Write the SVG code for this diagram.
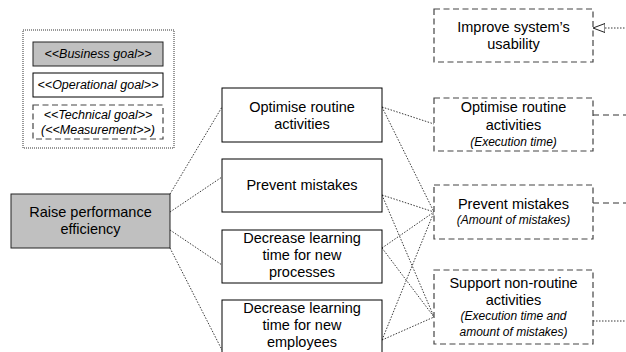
<svg xmlns="http://www.w3.org/2000/svg" width="626" height="352" viewBox="0 0 626 352">
<defs>
<style>
text{font-family:"Liberation Sans",Arial,sans-serif;fill:#000;text-anchor:middle}
.m{font-size:14.5px}
.s{font-size:12px;font-style:italic}
.lg{font-size:12.5px;font-style:italic}
.biz{fill:#c0c0c0;stroke:#222;stroke-width:1}
.op{fill:#fff;stroke:#000;stroke-width:1}
.tech{fill:#fff;stroke:#444;stroke-width:1.2;stroke-dasharray:6,3.5}
.frame{fill:#fff;stroke:#333;stroke-width:1;stroke-dasharray:1,1}
.c{fill:none;stroke:#222;stroke-width:0.9;stroke-dasharray:1.5,1.5}
.d{fill:none;stroke:#333;stroke-width:1.2;stroke-dasharray:6,4}
</style>
<marker id="tri" viewBox="0 0 12 10" refX="0" refY="5" markerWidth="12" markerHeight="10" markerUnits="userSpaceOnUse" orient="auto">
<path d="M0,5 L12,0.5 L12,9.5 Z" fill="#fff" stroke="#222" stroke-width="1"/>
</marker>
</defs>
<rect width="626" height="352" fill="#fff"/>

<g id="legend">
<rect class="frame" x="23" y="30" width="151" height="118"/>
<rect class="biz" x="33" y="42" width="130" height="24"/>
<text class="lg" x="98" y="58">&lt;&lt;Business goal&gt;&gt;</text>
<rect class="op" x="33" y="73" width="130" height="24"/>
<text class="lg" x="98" y="89">&lt;&lt;Operational goal&gt;&gt;</text>
<rect class="tech" x="33" y="105" width="130" height="34"/>
<text class="lg" x="98" y="119">&lt;&lt;Technical goal&gt;&gt;</text>
<text class="lg" x="98" y="134">(&lt;&lt;Measurement&gt;&gt;)</text>
</g>

<g id="connectors">
<path class="c" d="M170,194 L222,107"/>
<path class="c" d="M170,212 L222,177"/>
<path class="c" d="M170,230 L222,265"/>
<path class="c" d="M170,248 L222,350"/>
<path class="c" d="M382,107 L434,124"/>
<path class="c" d="M382,107 L434,212"/>
<path class="c" d="M382,195 L434,212"/>
<path class="c" d="M382,195 L434,317"/>
<path class="c" d="M382,248 L434,212"/>
<path class="c" d="M382,248 L434,317"/>
<path class="c" d="M382,340 L434,212"/>
<path class="c" d="M382,340 L434,317"/>
<path class="c" d="M605,28 L626,28" stroke-dasharray="2,1"/>
<path fill="none" stroke="#222" stroke-width="0.9" d="M593,28 L605,28" marker-start="url(#tri)" stroke-opacity="0"/>
<path class="d" d="M593,115 L626,115"/>
<path class="d" d="M593,203 L626,203"/>
<path class="c" d="M593,321 L626,321" stroke-dasharray="1,1"/>
</g>

<g id="raise">
<rect class="biz" x="11" y="194" width="159" height="54"/>
<text class="m" x="90.5" y="217">Raise performance</text>
<text class="m" x="90.5" y="234">efficiency</text>
</g>

<g id="op-optimise">
<rect class="op" x="222" y="88" width="160" height="54"/>
<text class="m" x="302" y="112">Optimise routine</text>
<text class="m" x="302" y="129">activities</text>
</g>
<g id="op-prevent">
<rect class="op" x="222" y="159" width="160" height="53"/>
<text class="m" x="302" y="190">Prevent mistakes</text>
</g>
<g id="op-processes">
<rect class="op" x="222" y="230" width="160" height="53"/>
<text class="m" x="302" y="243">Decrease learning</text>
<text class="m" x="302" y="260">time for new</text>
<text class="m" x="302" y="277">processes</text>
</g>
<g id="op-employees">
<rect class="op" x="222" y="300" width="160" height="60"/>
<text class="m" x="302" y="313">Decrease learning</text>
<text class="m" x="302" y="330">time for new</text>
<text class="m" x="302" y="347">employees</text>
</g>

<g id="t-usability">
<rect class="tech" x="434" y="9" width="159" height="53"/>
<text class="m" x="513.5" y="32">Improve system’s</text>
<text class="m" x="513.5" y="49">usability</text>
</g>
<g id="t-optimise">
<rect class="tech" x="434" y="98" width="159" height="53"/>
<text class="m" x="513.5" y="112">Optimise routine</text>
<text class="m" x="513.5" y="130">activities</text>
<text class="s" x="513.5" y="146">(Execution time)</text>
</g>
<g id="t-prevent">
<rect class="tech" x="434" y="185" width="159" height="54"/>
<text class="m" x="513.5" y="209">Prevent mistakes</text>
<text class="s" x="513.5" y="224">(Amount of mistakes)</text>
</g>
<g id="t-support">
<rect class="tech" x="434" y="270" width="159" height="74"/>
<text class="m" x="513.5" y="288">Support non-routine</text>
<text class="m" x="513.5" y="305">activities</text>
<text class="s" x="513.5" y="320">(Execution time and</text>
<text class="s" x="513.5" y="336">amount of mistakes)</text>
</g>
</svg>
